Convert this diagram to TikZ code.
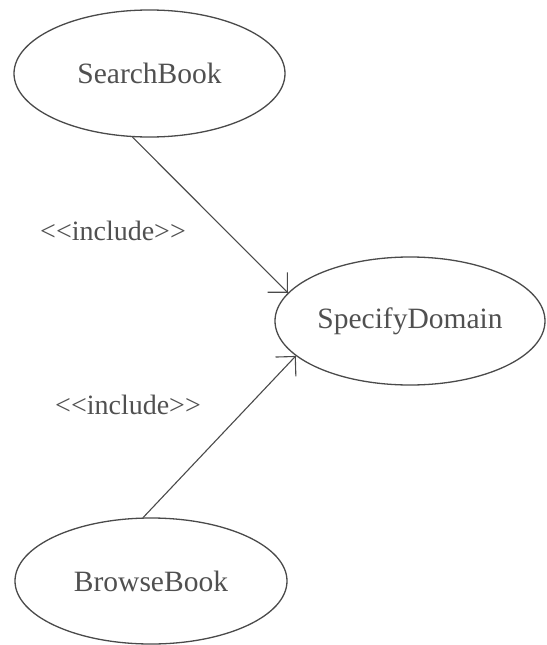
\documentclass[tikz,border=0pt]{standalone}
\usepackage{fontspec}
\setmainfont{Liberation Serif}
\usetikzlibrary{shapes.geometric,arrows.meta}
\definecolor{ink}{HTML}{4A4A4A}
\definecolor{txt}{HTML}{505050}
\begin{document}
\begin{tikzpicture}[x=1pt,y=-1pt,
  usecase/.style={ellipse,draw=ink,line width=1.3pt,inner sep=0pt,text=txt,font=\fontsize{29.5}{33}\selectfont},
  stereo/.style={text=txt,inner sep=0pt,font=\fontsize{28}{31}\selectfont},
  incl/.style={draw=ink,line width=1.1pt,-{Straight Barb[length=14pt,width=28pt,line width=1.1pt]}}]
\useasboundingbox (0,0) rectangle (546,645);
\node[usecase,minimum width=271pt,minimum height=127pt] (sb) at (149.5,73.5) {SearchBook};
\node[usecase,minimum width=270pt,minimum height=128pt] (sd) at (410,321) {SpecifyDomain};
\node[usecase,minimum width=272pt,minimum height=126pt] (bb) at (151,581) {BrowseBook};
\draw[incl] (sb.255) -- (sd.167);
\draw[incl] (bb.97) -- (sd.197);
\node[stereo] (l1) at (113,231) {<{}<include>{}>};
\node[stereo] (l2) at (128,405) {<{}<include>{}>};
\end{tikzpicture}
\end{document}
